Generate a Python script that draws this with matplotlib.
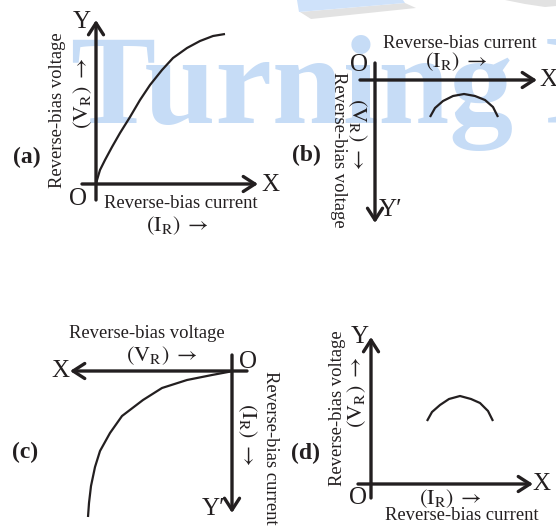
import numpy as np
import matplotlib
matplotlib.use('Agg')
import matplotlib.pyplot as plt
from matplotlib.patches import FancyArrowPatch, Polygon
from matplotlib.transforms import Affine2D

plt.rcParams['font.family'] = ['Liberation Serif', 'DejaVu Serif']
plt.rcParams['mathtext.fontset'] = 'stix'

# curve data, in axis units along each panel's own axes
a_current = [0, 1, 4, 9, 16, 24, 34, 44, 54, 66, 77, 91, 104, 117, 129]
a_voltage = [0, 4, 14, 24, 37, 51, 67, 84, 99, 114, 126, 136, 143, 148, 150]

b_current = [55, 60, 68, 78, 89, 100, 110, 118, 123]
b_voltage = [37, 28, 21, 16, 14, 16, 20, 27, 37]

c_voltage = [0, 4, 20, 45, 70, 89, 110, 122, 132, 137, 141, 143, 144]
c_current = [0, 1, 4, 9, 17, 29, 45, 62, 80, 96, 115, 132, 146]

d_current = [56, 61, 69, 78, 89, 100, 109, 117, 122]
d_voltage = [63, 72, 79, 85, 88, 85, 81, 73, 63]

# panel origin (pixel) and direction of the plotted x / y quantity on screen
panels = {
    'a': dict(origin=(96, 184), sx=1, sy=-1),
    'b': dict(origin=(375, 80), sx=1, sy=1),
    'c': dict(origin=(232, 371), sx=-1, sy=1),
    'd': dict(origin=(371, 484), sx=1, sy=-1),
}

fig = plt.figure(figsize=(5.56, 5.26), dpi=100)
ax = fig.add_axes([0, 0, 1, 1])
ax.set_xlim(0, 556)
ax.set_ylim(526, 0)
ax.axis('off')

# watermark
ax.text(71, 123, 'Turning P', fontsize=92, color='#c6dcf6', fontweight='bold',
        ha='left', va='baseline', zorder=0)
ax.add_patch(Polygon([(300, 12), (405, 3), (416, 8), (311, 19)], closed=True,
                     fc='#e2e2e2', ec='none', zorder=0))
ax.add_patch(Polygon([(297, 0), (403, 0), (405, 3), (299, 12)], closed=True,
                     fc='#cfe2fa', ec='none', zorder=0))
ax.add_patch(Polygon([(505, 0), (556, 0), (556, 6), (545, 7), (525, 4)], closed=True,
                     fc='#e2e2e2', ec='none', zorder=0))


def arrow(p0, p1):
    ax.add_patch(FancyArrowPatch(p0, p1, arrowstyle='->,head_length=0.7,head_width=0.45',
                                 mutation_scale=12, lw=2.4, color='#231f20',
                                 shrinkA=0, shrinkB=0, zorder=3))


def curve(key, xs, ys):
    p = panels[key]
    tr = Affine2D().scale(p['sx'], p['sy']).translate(*p['origin']) + ax.transData
    ax.plot(xs, ys, color='#231f20', lw=1.6, transform=tr, zorder=4,
            solid_capstyle='butt', solid_joinstyle='round')


# axes lines
arrow((96, 200), (96, 20))
arrow((82, 184), (258, 184))
arrow((375, 63), (375, 223))
arrow((360, 80), (537, 80))
arrow((247, 371), (70, 371))
arrow((232, 355), (232, 513))
arrow((371, 498), (371, 337))
arrow((358, 484), (533, 484))

curve('a', a_current, a_voltage)
curve('b', b_current, b_voltage)
curve('c', c_voltage, c_current)
curve('d', d_current, d_voltage)

k = '#231f20'
big = 18
lab = 13.4
sym = 16
vr = r'$(\mathrm{V}_\mathrm{R})\;\rightarrow$'
ir = r'$(\mathrm{I}_\mathrm{R})\;\rightarrow$'

# panel letters
for s, (x, y) in {'(a)': (27, 157), '(b)': (306, 155), '(c)': (25, 452), '(d)': (305, 453)}.items():
    ax.text(x, y, s, fontsize=17, fontweight='bold', color=k, ha='center', va='center')

# axis letters
axis_letters = [('Y', 82, 22), ('X', 270, 185), ('O', 78, 199),
                ('O', 359, 65), ('X', 548, 80), ('Y′', 391, 210),
                ('X', 60, 371), ('O', 248, 362), ('Y′', 214, 509),
                ('Y', 360, 337), ('X', 541, 484), ('O', 358, 498)]
for s, x, y in axis_letters:
    ax.text(x, y, s, fontsize=big, color=k, ha='center', va='center')

# horizontal labels
ax.text(181, 204, 'Reverse-bias current', fontsize=lab, color=k, ha='center', va='center')
ax.text(177, 226, ir, fontsize=sym, color=k, ha='center', va='center')
ax.text(460, 43, 'Reverse-bias current', fontsize=lab, color=k, ha='center', va='center')
ax.text(456, 62, ir, fontsize=sym, color=k, ha='center', va='center')
ax.text(147, 333, 'Reverse-bias voltage', fontsize=lab, color=k, ha='center', va='center')
ax.text(162, 356, vr, fontsize=sym, color=k, ha='center', va='center')
ax.text(450, 499, ir, fontsize=sym, color=k, ha='center', va='center')
ax.text(462, 515, 'Reverse-bias current', fontsize=lab, color=k, ha='center', va='center')

# rotated labels
ax.text(58, 110, 'Reverse-bias voltage', fontsize=lab, color=k, ha='center', va='center', rotation=90)
ax.text(83, 93, vr, fontsize=sym, color=k, ha='center', va='center', rotation=90)
ax.text(338, 150, 'Reverse-bias voltage', fontsize=lab, color=k, ha='center', va='center', rotation=-90)
ax.text(357, 134, vr, fontsize=sym, color=k, ha='center', va='center', rotation=-90)
ax.text(270, 448, 'Reverse-bias current', fontsize=lab, color=k, ha='center', va='center', rotation=-90)
ax.text(247, 434, ir, fontsize=sym, color=k, ha='center', va='center', rotation=-90)
ax.text(337, 408, 'Reverse-bias voltage', fontsize=lab, color=k, ha='center', va='center', rotation=90)
ax.text(357, 392, vr, fontsize=sym, color=k, ha='center', va='center', rotation=90)

fig.savefig('out.png', dpi=100)
